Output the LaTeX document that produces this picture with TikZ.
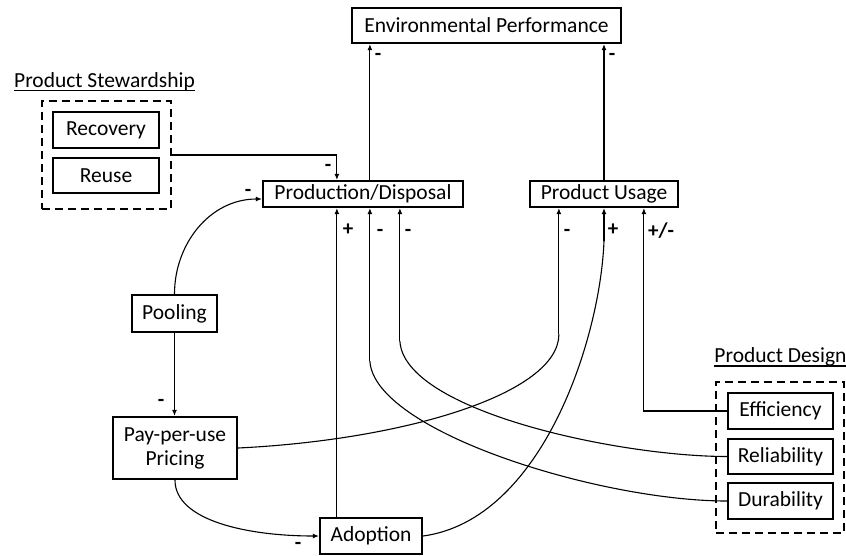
\documentclass[tikz,border=0pt]{standalone}
\usepackage{fontspec}
\setmainfont{Carlito}
\usetikzlibrary{arrows.meta,calc}
\begin{document}
\begin{tikzpicture}[x=1pt,y=-1pt,
  box/.style={draw,line width=2.2pt,inner sep=0pt,align=center,font=\fontsize{21.5}{24}\selectfont},
  dbox/.style={draw,line width=2.2pt,dash pattern=on 8pt off 5pt,inner sep=0pt},
  ttl/.style={inner sep=0pt,anchor=base,font=\fontsize{21.5}{24}\selectfont},
  arr/.style={line width=1.1pt,-{Latex[length=6pt,width=5pt]}},
  con/.style={line width=1.1pt},
  lbl/.style={inner sep=0pt,font=\bfseries\fontsize{21}{22}\selectfont}]
\useasboundingbox (0,0) rectangle (846,555);

% main boxes
\node[box,minimum width=269,minimum height=35] (env) at (486.5,25.5) {Environmental Performance};
\node[box,minimum width=200,minimum height=26] (pd) at (363,194) {Production/Disposal};
\node[box,minimum width=148,minimum height=26] (pu) at (604,194) {Product Usage};

% stewardship
\node[dbox,minimum width=129,minimum height=108] (stew) at (106.5,155) {};
\node[box,minimum width=106,minimum height=36] (rec) at (106,130) {Recovery};
\node[box,minimum width=106,minimum height=35] (reu) at (106,175.5) {Reuse};
\node[ttl] (stewt) at (104.5,87) {Product Stewardship};
\draw[line width=1.5pt] (stewt.south west) -- (stewt.south east);

% left chain
\node[box,minimum width=85,minimum height=37] (pool) at (174.5,313.5) {Pooling};
\node[box,minimum width=124,minimum height=62] (ppu) at (175,448) {Pay-per-use\\Pricing};
\node[box,minimum width=102,minimum height=36] (adop) at (371,536) {Adoption};

% design
\node[dbox,minimum width=128,minimum height=151] (des) at (780,457.5) {};
\node[box,minimum width=105,minimum height=36] (eff) at (780.5,411) {Efficiency};
\node[box,minimum width=105,minimum height=35] (rel) at (780.5,456.5) {Reliability};
\node[box,minimum width=105,minimum height=36] (dur) at (780.5,501) {Durability};
\node[ttl] (dest) at (780.5,362) {Product Design};
\draw[line width=1.5pt] (dest.south west) -- (dest.south east);

% ports
\coordinate (pdA) at ($(pd.south west)+(75,0)$);
\coordinate (pdB) at ($(pd.south west)+(108,0)$);
\coordinate (pdC) at ($(pd.south west)+(138,0)$);
\coordinate (pdT) at ($(pd.north west)+(108,0)$);
\coordinate (puA) at ($(pu.south west)+(30,0)$);
\coordinate (puB) at (pu.south);
\coordinate (puC) at ($(pu.south west)+(115,0)$);
\coordinate (pdBb) at ($(pdB)+(0,153)$);
\coordinate (pdCb) at ($(pdC)+(0,133)$);
\coordinate (puAb) at ($(puA)+(0,126)$);
\coordinate (puBb) at ($(puB)+(0,33)$);
\coordinate (pdW) at ($(pd.west)+(0,5)$);

% to environmental performance
\draw[arr] (pdT) -- (pdT |- env.south);
\draw[arr] (pu.north) -- (pu.north |- env.south);
\node[lbl] at (378,57) {-};
\node[lbl] at (612,57) {-};

% stewardship to production
\draw[arr] (stew.east) -| (pdA |- pd.north);
\node[lbl] at (328,168) {-};

% pooling
\draw[arr] (pool.north) .. controls +(0,-50) and +(-52,0) .. (pdW);
\node[lbl] at (248,193) {-};
\draw[arr] (pool.south) -- (pool.south |- ppu.north);
\node[lbl] at (161,403) {-};

% pricing
\draw[arr] (ppu.south) .. controls +(0,41) and +(-70,0) .. (adop.west);
\node[lbl] at (298,546) {-};
\draw[con] (ppu.east) .. controls +(165,-8) and +(0,60) .. (puAb);
\draw[arr] (puAb) -- (puA);

% adoption
\draw[arr] (pdA |- adop.north) -- (pdA);
\draw[con] (adop.east) .. controls +(118,-16) and +(-4,100) .. (puBb);
\draw[arr] (puBb) -- (puB);

% design
\draw[arr] (eff.west) -| (puC);
\draw[con] (rel.west) .. controls +(-108,0) and +(4,70) .. (pdCb);
\draw[arr] (pdCb) -- (pdC);
\draw[con] (dur.west) .. controls +(-128,0) and +(4,70) .. (pdBb);
\draw[arr] (pdBb) -- (pdB);

% labels below boxes
\node[lbl] at (348,230) {+};
\node[lbl] at (380,233) {-};
\node[lbl] at (408,233) {-};
\node[lbl] at (567,233) {-};
\node[lbl] at (613,230) {+};
\node[lbl] at (661,231) {+/-};
\end{tikzpicture}
\end{document}
